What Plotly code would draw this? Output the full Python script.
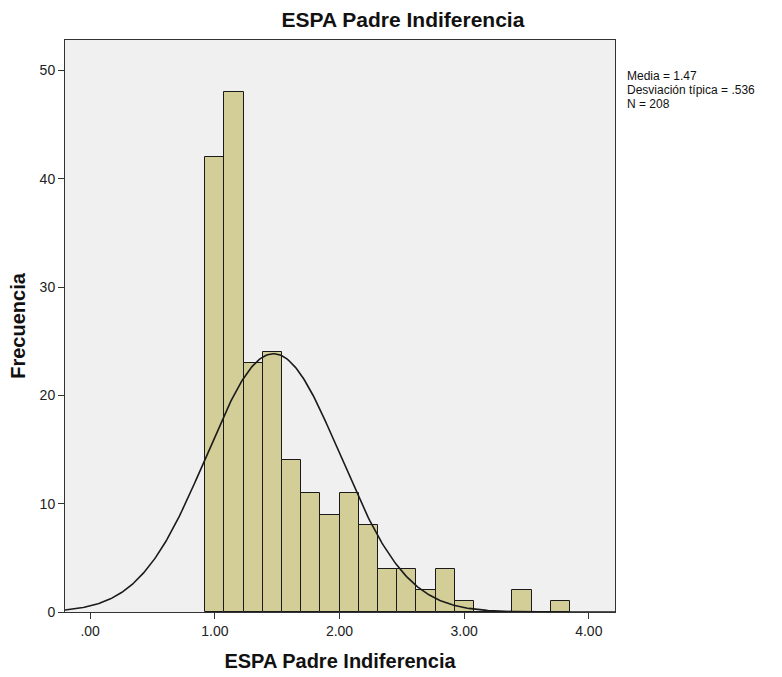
import numpy as np
import plotly.graph_objects as go

# Data
bin_centers = [1.0 + 0.154 * k for k in range(19)]
counts = [42, 48, 23, 24, 14, 11, 9, 11, 8, 4, 4, 2, 4, 1, 0, 0, 2, 0, 1]
bin_width = 0.154
mean_val = 1.47
sd_val = 0.536
n_val = 208
x_tickvals = [0, 1, 2, 3, 4]
x_ticktext = [".00", "1.00", "2.00", "3.00", "4.00"]
y_tickvals = [0, 10, 20, 30, 40, 50]
stats_lines = ["Media = 1.47", "Desviación típica = .536", "N = 208"]

x_range = [-0.202, 4.21]
y_range = [0, 52.8]

# Normal curve from summary statistics
xc = np.linspace(x_range[0], x_range[1], 400)
yc = n_val * bin_width / (sd_val * np.sqrt(2 * np.pi)) * np.exp(-0.5 * ((xc - mean_val) / sd_val) ** 2)

fig = go.Figure()
fig.add_trace(go.Bar(
    x=bin_centers, y=counts, width=bin_width,
    marker=dict(color="#D3CE97", line=dict(color="#1a1a1a", width=1)),
    showlegend=False, hoverinfo="skip",
))
fig.add_trace(go.Scatter(
    x=xc, y=yc, mode="lines", line=dict(color="#1a1a1a", width=1.6),
    showlegend=False, hoverinfo="skip",
))

font_family = "Liberation Sans, Arial, sans-serif"
plot_top, plot_h = 40, 572

annotations = []
for i, line in enumerate(stats_lines):
    py = 76 + 14 * i
    annotations.append(dict(
        xref="paper", yref="paper", x=1 + 10 / 550, y=1 - (py - plot_top) / plot_h,
        xanchor="left", yanchor="middle", align="left", showarrow=False,
        text=line, font=dict(size=12, color="#111111", family=font_family),
    ))

fig.update_layout(
    width=782, height=677,
    margin=dict(l=65, r=167, t=40, b=65, autoexpand=False),
    paper_bgcolor="white",
    plot_bgcolor="#F0F0F0",
    font=dict(family=font_family, size=14, color="#222222"),
    bargap=0,
    title=dict(text="<b>ESPA Padre Indiferencia</b>", x=403 / 782, xanchor="center",
               y=1 - 20 / 677, yanchor="middle", font=dict(size=21, color="#111111")),
    xaxis=dict(
        range=x_range, tickvals=x_tickvals, ticktext=x_ticktext,
        showgrid=False, zeroline=False, automargin=False,
        showline=True, linecolor="#333333", linewidth=1, mirror=True,
        ticks="outside", ticklen=6, tickcolor="#333333",
        tickfont=dict(size=14, color="#222222"),
        title=dict(text="<b>ESPA Padre Indiferencia</b>", font=dict(size=20, color="#111111"), standoff=16),
    ),
    yaxis=dict(
        range=y_range, tickvals=y_tickvals,
        showgrid=False, zeroline=False, automargin=False,
        showline=True, linecolor="#333333", linewidth=1, mirror=True,
        ticks="outside", ticklen=6, tickcolor="#333333",
        tickfont=dict(size=14, color="#222222"),
        title=dict(text="<b>Frecuencia</b>", font=dict(size=20, color="#111111"), standoff=8),
    ),
    annotations=annotations,
)

fig.write_html("out.html")
